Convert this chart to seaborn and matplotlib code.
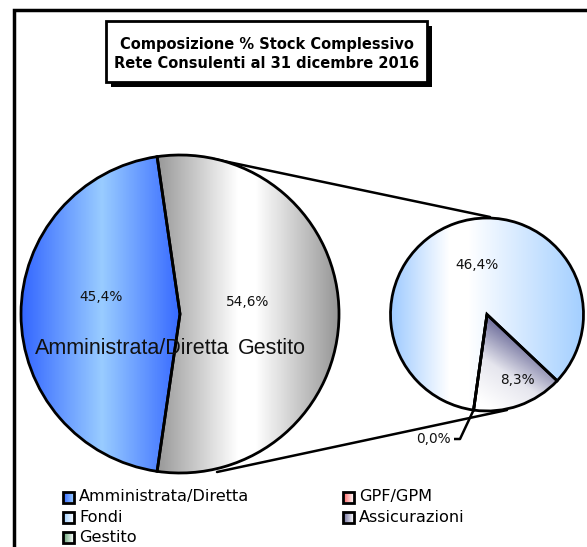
import numpy as np
import matplotlib
matplotlib.use("Agg")
import matplotlib.pyplot as plt
from matplotlib.colors import LinearSegmentedColormap
from matplotlib.patches import Rectangle
import seaborn as sns

# ---------------- data ----------------
title_lines = ["Composizione % Stock Complessivo", "Rete Consulenti al 31 dicembre 2016"]
main_labels = ["Amministrata/Diretta", "Gestito"]
main_values = [45.4, 54.6]
sub_labels = ["GPF/GPM", "Fondi", "Assicurazioni"]
sub_values = [0.0, 46.4, 8.3]
legend_labels = ["Amministrata/Diretta", "Fondi", "Gestito", "GPF/GPM", "Assicurazioni"]

sns.set_theme(style="white")
plt.rcParams["font.family"] = ["DejaVu Sans"]

W, H = 587, 547
fig = plt.figure(figsize=(W / 100, H / 100), dpi=100)
ax = fig.add_axes([0, 0, 1, 1])
ax.set_xlim(0, W)
ax.set_ylim(0, H)
ax.set_aspect("equal")
ax.axis("off")

def Y(y):
    return H - y

def cmap(stops):
    return LinearSegmentedColormap.from_list("g", stops)

def grad_fill(patch, extent, kind, stops, direction=None):
    x0, x1, y0, y1 = extent
    n = 200
    xs = np.linspace(0, 1, n)
    if kind == "h":
        img = np.tile(xs, (n, 1))
    else:
        gx, gy = np.meshgrid(np.linspace(x0, x1, n), np.linspace(y1, y0, n))
        dx, dy, ox, oy, L = direction
        img = ((gx - ox) * dx + (gy - oy) * dy) / L
        img = np.clip(img, 0, 1)
    im = ax.imshow(img, extent=[x0, x1, y0, y1], cmap=cmap(stops), vmin=0, vmax=1,
                   origin="upper", aspect="auto", zorder=2, interpolation="bilinear")
    im.set_clip_path(patch)

# ---------------- main pie ----------------
c1 = (180, Y(314))
r1 = 159
start1 = 180 - main_values[0] / 100 * 360 / 2
w1, _ = ax.pie(main_values, startangle=start1, counterclock=True, center=c1, radius=r1,
               colors=["none", "none"], wedgeprops=dict(edgecolor="black", linewidth=2.0),
               frame=True)
ax.set_xlim(0, W); ax.set_ylim(0, H); ax.axis("off")
for w in w1:
    w.set_zorder(3)
    w.set_facecolor("none")
grad_fill(w1[0], (c1[0] - r1, c1[0] + 3, c1[1] - r1, c1[1] + r1), "h",
          [(0, "#3366ff"), (0.5, "#99ccff"), (1, "#3366ff")])
grad_fill(w1[1], (c1[0] - 25, c1[0] + r1, c1[1] - r1, c1[1] + r1), "h",
          [(0, "#969696"), (0.45, "#ffffff"), (0.55, "#ffffff"), (1, "#969696")])
ax.text(c1[0] + r1 * 0.51 * np.cos(np.radians(168)), c1[1] + r1 * 0.51 * np.sin(np.radians(168)),
        "45,4%", ha="center", va="center", fontsize=9.8, color="#111111", zorder=5)
ax.text(c1[0] + r1 * 0.43 * np.cos(np.radians(10)), c1[1] + r1 * 0.43 * np.sin(np.radians(10)),
        "54,6%", ha="center", va="center", fontsize=9.8, color="#111111", zorder=5)
ax.text(c1[0] - 48, c1[1] - 35, main_labels[0], ha="center", va="center",
        fontsize=15.5, family="Liberation Sans", color="#111111", zorder=5)
ax.text(c1[0] + 92, c1[1] - 35, main_labels[1], ha="center", va="center",
        fontsize=15.5, family="Liberation Sans", color="#111111", zorder=5)

# ---------------- secondary pie ----------------
c2 = (487, Y(314.5))
r2 = 96.5
w2, _ = ax.pie(sub_values, startangle=262, counterclock=False, center=c2, radius=r2,
               colors=["none"] * 3, wedgeprops=dict(edgecolor="black", linewidth=2.0),
               frame=True)
ax.set_xlim(0, W); ax.set_ylim(0, H); ax.axis("off")
for w in w2:
    w.set_zorder(3)
    w.set_facecolor("none")
grad_fill(w2[1], (c2[0] - r2, c2[0] + r2, c2[1] - r2, c2[1] + r2), "h",
          [(0, "#9fcbff"), (0.3, "#ffffff"), (0.4, "#ffffff"), (1, "#a3cfff")])
# Assicurazioni slice diagonal gradient
p_white = (484, Y(404))
p_dark = (526, Y(342))
dx, dy = p_dark[0] - p_white[0], p_dark[1] - p_white[1]
L = np.hypot(dx, dy)
grad_fill(w2[2], (c2[0] - 20, c2[0] + r2, c2[1] - r2, c2[1] + 5), "d",
          [(0, "#ffffff"), (0.45, "#e6e6ee"), (1, "#55558a")],
          direction=(dx / L, dy / L, p_white[0], p_white[1], L * 1.1))
ax.text(477, Y(265), "46,4%", ha="center", va="center", fontsize=9.8, color="#111111", zorder=5)
ax.text(517, Y(380), "8,3%", ha="center", va="center", fontsize=9.8, color="#111111", zorder=5)
# leader for 0,0%
a = np.radians(262)
p0 = (c2[0] + r2 * np.cos(a), c2[1] + r2 * np.sin(a))
ax.plot([p0[0], 460, 454], [p0[1], Y(439), Y(439)], color="black", lw=1.8, zorder=4,
        solid_capstyle="butt")
ax.text(451, Y(439), "0,0%", ha="right", va="center", fontsize=9.8, color="#111111", zorder=5)

# connector lines
ax.plot([214, 490], [Y(159), Y(217)], color="black", lw=1.8, zorder=1)
ax.plot([217, 507], [Y(472), Y(410)], color="black", lw=1.8, zorder=1)

# ---------------- title box ----------------
ax.add_patch(Rectangle((111, Y(87)), 321, 61, facecolor="black", edgecolor="none", zorder=6))
ax.add_patch(Rectangle((106, Y(82)), 321, 61, facecolor="white", edgecolor="black", lw=2, zorder=7))
ax.text(266.5, Y(44), title_lines[0], ha="center", va="center", fontsize=10.5,
        fontweight="bold", color="black", zorder=8)
ax.text(266.5, Y(64), title_lines[1], ha="center", va="center", fontsize=10.5,
        fontweight="bold", color="black", zorder=8)

# ---------------- outer frame ----------------
ax.plot([14, 14, W + 5], [-5, Y(10), Y(10)], color="black", lw=2.5, zorder=9,
        solid_joinstyle="miter")

# ---------------- legend ----------------
legend_grads = [
    ["#3366ff", "#99ccff"],
    ["#99ccff", "#ffffff"],
    ["#5f9f6f", "#ffffff"],
    ["#ff5f5f", "#ffffff"],
    ["#6a6a9a", "#ffffff"],
]
pos = [(63, 497), (63, 517), (63, 537), (343, 497), (343, 517)]
for lab, g, (lx, ly) in zip(legend_labels, legend_grads, pos):
    rect = Rectangle((lx, Y(ly) - 5.5), 11, 11, facecolor="none", edgecolor="black", lw=2, zorder=4)
    ax.add_patch(rect)
    grad_fill(rect, (lx, lx + 11, Y(ly) - 5.5, Y(ly) + 5.5), "h", g)
    ax.text(lx + 16, Y(ly), lab, ha="left", va="center", fontsize=11.6, color="black", zorder=5)

fig.savefig("out.png", dpi=100)
